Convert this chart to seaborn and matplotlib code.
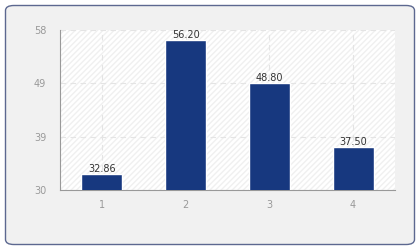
import matplotlib
matplotlib.use("Agg")
import matplotlib.pyplot as plt
import seaborn as sns
import numpy as np
import pandas as pd
from matplotlib.patches import FancyBboxPatch, Rectangle

categories = ["1", "2", "3", "4"]
values = [32.86, 56.20, 48.80, 37.50]
y_min, y_max = 30, 58

sns.set_style("white")
plt.rcParams['font.family'] = ['DejaVu Sans']

fig = plt.figure(figsize=(4.2, 2.5), dpi=100)
fig.patch.set_facecolor("white")
box = FancyBboxPatch((5.5 / 420, 5.5 / 250), 409 / 420, 239 / 250,
                     boxstyle="round,pad=0,rounding_size=0.02",
                     transform=fig.transFigure, facecolor="#f1f1f1",
                     edgecolor="#5c6890", linewidth=1.0, zorder=-10)
fig.patches.append(box)

ax = fig.add_axes([60 / 420, 1 - 190 / 250, 335 / 420, 160 / 250])
ax.set_zorder(5)
ax.set_facecolor("white")
hatch = Rectangle((0, 0), 1, 1, transform=ax.transAxes, facecolor="white",
                  edgecolor="#f0f0f0", hatch="//////", linewidth=0, zorder=0)
ax.add_patch(hatch)

df = pd.DataFrame({"cat": categories, "val": values})
sns.barplot(data=df, x="cat", y="val", color="#17387f", saturation=1,
            width=0.49, ax=ax, zorder=3)
ax.bar_label(ax.containers[0], fmt="%.2f", fontsize=7, color="#333333", padding=0)

ax.set_xlim(-0.5, 3.5)
ax.set_ylim(y_min, y_max)
ticks = np.linspace(y_min, y_max, 4)
ax.set_yticks(ticks)
ax.set_yticklabels([f"{t:.0f}" for t in ticks])
ax.set_xlabel("")
ax.set_ylabel("")

ax.grid(True, axis="both", linestyle=(0, (5, 4)), color="#e4e4e4", linewidth=0.8, zorder=1)
ax.set_axisbelow(True)
for s in ["top", "right"]:
    ax.spines[s].set_visible(False)
for s in ["left", "bottom"]:
    ax.spines[s].set_color("#999999")
    ax.spines[s].set_linewidth(0.8)
ax.tick_params(axis="both", colors="#999999", labelsize=7, length=4, width=0.8,
               labelcolor="#999999", direction="out")
ax.tick_params(axis="y", pad=6)

fig.savefig("out.png", dpi=100)
